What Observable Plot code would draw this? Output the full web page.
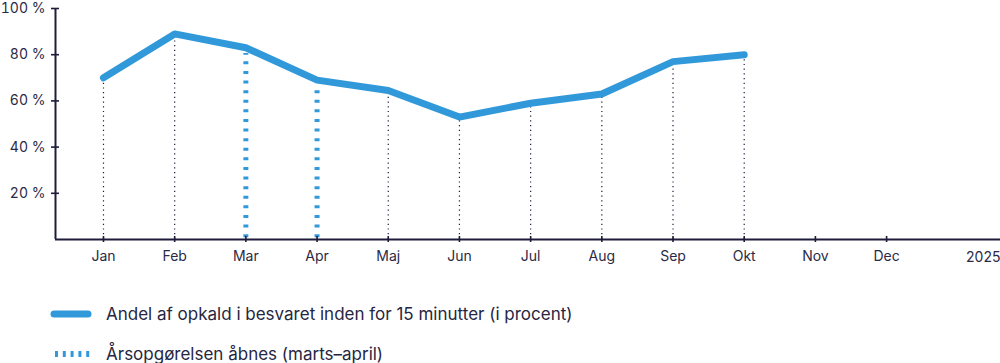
<!DOCTYPE html>
<html>
<head>
<meta charset="utf-8">
<script src="https://cdn.jsdelivr.net/npm/d3@7"></script>
<script src="https://cdn.jsdelivr.net/npm/@observablehq/plot@0.6"></script>
<style>
  html, body { margin: 0; padding: 0; background: #fff; }
  body { font-family: Inter, "Noto Sans", sans-serif; color: #262642; }
  #chart { width: 1000px; }
  .legend { margin-top: 22px; }
  .item { display: flex; align-items: center; height: 40px; }
  .item svg { margin-left: 50px; margin-right: 14px; }
  .item span { font-size: 17px; }
</style>
</head>
<body>
<div id="chart"></div>
<script>
const months = ["Jan","Feb","Mar","Apr","Maj","Jun","Jul","Aug","Sep","Okt","Nov","Dec"];
const yearLabel = "2025";
const values = [70, 89, 83, 69, 64.5, 53, 59, 63, 77, 80];
const highlightMonths = ["Mar","Apr"];
const yTicks = [20, 40, 60, 80, 100];
const seriesLabel = "Andel af opkald i besvaret inden for 15 minutter (i procent)";
const highlightLabel = "Årsopgørelsen åbnes (marts–april)";

const blue = "#3199da";
const ink = "#1e1c3a";
const textInk = "#2a2a46";

const data = values.map((v, i) => ({i, month: months[i], value: v}));
const xMin = -0.674, xMax = 12.6;

const plot = Plot.plot({
  width: 1000,
  height: 272,
  marginLeft: 55,
  marginRight: 0,
  marginTop: 8,
  marginBottom: 33,
  style: {fontFamily: "Inter, 'Noto Sans', sans-serif", fontSize: "14px", color: textInk, background: "#fff"},
  x: {domain: [xMin, xMax]},
  y: {domain: [0, 100]},
  marks: [
    Plot.ruleX(data.filter(d => !highlightMonths.includes(d.month)), {x: "i", y1: 0, y2: "value", stroke: ink, strokeWidth: 1.2, strokeDasharray: "1.2,3.5"}),
    Plot.ruleX(data.filter(d => highlightMonths.includes(d.month)), {x: "i", y1: 0.8, y2: d => d.value - 2.5, stroke: blue, strokeWidth: 5, strokeDasharray: "3,6.6"}),
    Plot.ruleY([0], {stroke: ink, strokeWidth: 2}),
    Plot.ruleX([xMin], {y1: 0, y2: 100, stroke: ink, strokeWidth: 2}),
    Plot.axisX(d3.range(months.length), {tickSize: 3, tickFormat: i => months[i], tickPadding: 9, stroke: ink, strokeWidth: 1.6, label: null, fontSize: 14, color: textInk}),
    Plot.axisX(d3.range(months.length), {tickSize: 3, text: null, dy: -3, stroke: ink, strokeWidth: 1.6, label: null}),
    Plot.text([yearLabel], {x: xMax, y: 0, text: d => d, textAnchor: "end", dy: 18, fontSize: 14, fill: textInk}),
    Plot.axisY(yTicks, {tickSize: 4, tickFormat: d => d + " %", tickPadding: 6, stroke: ink, strokeWidth: 1.6, label: null, fontSize: 14}),
    Plot.axisY(yTicks, {tickSize: 4, text: null, dx: 4, stroke: ink, strokeWidth: 1.6, label: null}),
    Plot.line(data, {x: "i", y: "value", stroke: blue, strokeWidth: 7, strokeLinecap: "round", strokeLinejoin: "round"})
  ]
});
document.getElementById("chart").appendChild(plot);

const legend = document.createElement("div");
legend.className = "legend";
legend.innerHTML = `
  <div class="item"><svg width="42" height="10"><line x1="4" y1="5" x2="38" y2="5" stroke="${blue}" stroke-width="7" stroke-linecap="round"/></svg><span>${seriesLabel}</span></div>
  <div class="item"><svg width="42" height="10"><line x1="5" y1="5" x2="40" y2="5" stroke="${blue}" stroke-width="6" stroke-dasharray="3,4.8"/></svg><span>${highlightLabel}</span></div>`;
document.body.appendChild(legend);
</script>
</body>
</html>
